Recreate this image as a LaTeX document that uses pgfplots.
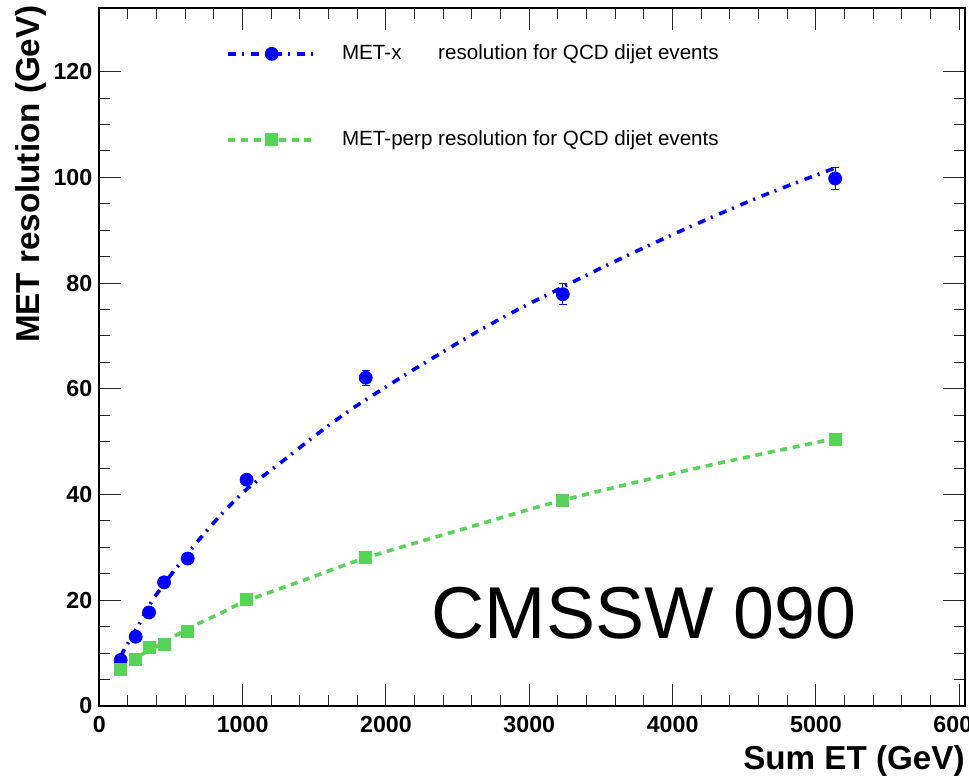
\documentclass[border=0pt]{standalone}
\usepackage{fontspec}
\setmainfont{Liberation Sans}
\usepackage{pgfplots}
\pgfplotsset{compat=1.18}
\usetikzlibrary{calc}
\definecolor{rootgreen}{RGB}{87,211,87}
\begin{document}
\begin{tikzpicture}
\begin{axis}[
  scale only axis,
  width=432.85pt, height=348.85pt,
  xmin=0, xmax=6040, ymin=0, ymax=132,
  xtick={0,1000,...,6000}, minor x tick num=4,
  ytick={0,20,...,120}, minor y tick num=3,
  xtick pos=both, ytick pos=both,
  xticklabel pos=lower, yticklabel pos=left,
  tick align=inside,
  major tick length=11pt, minor tick length=5.5pt,
  every tick/.style={black!85, line width=0.5pt},
  axis line style={line width=1pt},
  /pgf/number format/assume math mode=true,
  /pgf/number format/set thousands separator={},
  ticklabel style={font=\bfseries\fontsize{11.6}{13}\selectfont},
  xticklabel style={yshift=-1.7pt},
  xlabel={Sum ET (GeV)},
  ylabel={MET resolution (GeV)},
  label style={font=\bfseries\fontsize{16.6}{19}\selectfont},
  xlabel style={at={($(rel axis cs:1,0)+(0,-32pt)$)}, anchor=base east, inner sep=0pt},
  ylabel style={at={($(rel axis cs:0,1)+(-29.65pt,1.65pt)$)}, anchor=base east, rotate=0, inner sep=0pt},
  legend style={draw=none, fill=none, at={(rel axis cs:0.1395,0.955)}, anchor=north west,
    font=\fontsize{10.3}{12}\selectfont, row sep=33.2pt, column sep=12.5pt,
    nodes={inner sep=0pt, text height=7.5pt, text depth=2.3pt}},
  legend cell align=left,
]
% fit curves
\addplot[blue, line width=1.8pt, dash pattern=on 4pt off 3pt on 1pt off 3.5pt, smooth, forget plot] coordinates {
(150,9.4) (179,10.9) (254,14.4) (284,15.8) (366,19.8) (412,21.6) (505,25.0) (558,26.8)
(691,31.3) (850,36.2) (1028,41.0) (1273,46.2) (1528,51.6) (1784,56.6) (2191,63.6)
(2610,70.4) (2913,74.9) (3200,78.8) (3482,82.6) (3800,86.7) (4192,91.5) (4634,96.6) (5134,101.8)
};
\addplot[rootgreen, line width=1.8pt, dash pattern=on 3.5pt off 2.85pt, smooth, forget plot] coordinates {
(150,7.0) (254,8.9) (347,10.6) (452,12.0) (617,14.6) (850,17.6) (1028,19.9) (1447,24.0)
(1856,28.0) (2541,33.5) (3229,38.9) (4200,45.2) (5134,50.6)
};
% data points
\addplot[blue, only marks, mark=*, mark size=3.25pt, mark options={draw=blue, fill=blue},
  error bars/.cd, y dir=both, y explicit,
  error bar style={line width=0.6pt, blue},
  error mark options={rotate=90, mark size=2pt, line width=0.6pt, blue},
  /pgfplots/legend image code/.code={
    \draw[blue, line width=1.8pt, dash pattern=on 4pt off 3pt on 1pt off 3.5pt] (0pt,0pt) -- (43.5pt,0pt);
    \draw[blue, mark=*, mark size=3.25pt, mark options={draw=blue, fill=blue}] plot coordinates {(21.75pt,0pt)};
  }]
  coordinates {
(149,8.7) +- (0,0.3)
(254,13.1) +- (0,0.4)
(347,17.7) +- (0,0.4)
(452,23.4) +- (0,0.5)
(617,27.9) +- (0,0.6)
(1028,42.8) +- (0,0.8)
(1859,62.1) +- (0,1.4)
(3234,77.9) +- (0,2.0)
(5134,99.8) +- (0,2.1)
};
\addlegendentry{\rlap{MET-x}\phantom{MET-perp} resolution for QCD dijet events}
\addplot[rootgreen, only marks, mark=square*, mark size=3pt, mark options={draw=rootgreen, fill=rootgreen},
  legend image code/.code={
    \draw[rootgreen, line width=1.8pt, dash pattern=on 3.5pt off 2.85pt] (0pt,0pt) -- (43.5pt,0pt);
    \draw[rootgreen, mark=square*, mark size=3pt, mark options={draw=rootgreen, fill=rootgreen}] plot coordinates {(21.75pt,0pt)};
  }]
  coordinates {
(149,6.9) (254,8.9) (347,11.1) (452,11.7) (617,14.2) (1028,20.1) (1859,28.1) (3229,38.9) (5134,50.5)
};
\addlegendentry{MET-perp resolution for QCD dijet events}
\coordinate (SW) at (rel axis cs:0,0);
\coordinate (NE) at (rel axis cs:1,1);
\node[anchor=base west, inner sep=0pt, font=\fontsize{36.75}{40}\selectfont] at (axis cs:2317,12.8) {CMSSW 090};
\end{axis}
\pgfresetboundingbox
\path ([shift={(-49.65pt,-36.5pt)}]SW) rectangle ([shift={(2pt,4.15pt)}]NE);
\end{tikzpicture}
\end{document}
